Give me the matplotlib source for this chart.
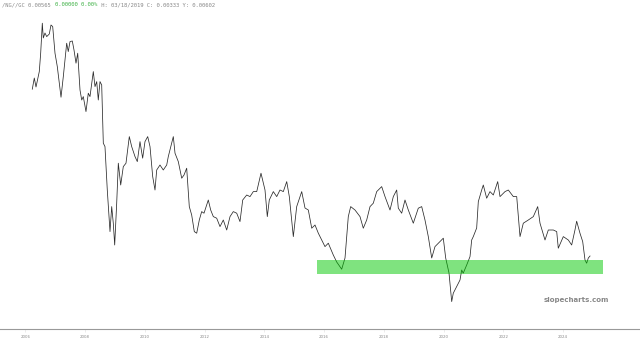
import matplotlib
matplotlib.use("Agg")
import matplotlib.pyplot as plt
import numpy as np

# NG / GC ratio (decimal year, value)
years = [2006.236, 2006.303, 2006.36, 2006.47, 2006.517, 2006.571, 2006.604, 2006.66, 2006.718, 2006.805,
         2006.862, 2006.919, 2006.996, 2007.073, 2007.197, 2007.274, 2007.387, 2007.44, 2007.498, 2007.575,
         2007.632, 2007.699, 2007.756, 2007.833, 2007.89, 2007.943, 2008.033, 2008.11, 2008.167, 2008.278,
         2008.335, 2008.392, 2008.445, 2008.502, 2008.559, 2008.613, 2008.669, 2008.746, 2008.837, 2008.894,
         2008.947, 2008.994, 2009.061, 2009.115, 2009.195, 2009.282, 2009.372, 2009.483, 2009.563, 2009.674,
         2009.751, 2009.841, 2009.93, 2010.008, 2010.099, 2010.176, 2010.266, 2010.343, 2010.4, 2010.51,
         2010.62, 2010.735, 2010.788, 2010.956, 2011.013, 2011.123, 2011.237, 2011.314, 2011.404, 2011.491,
         2011.571, 2011.659, 2011.739, 2011.826, 2011.906, 2011.983, 2012.127, 2012.207, 2012.295, 2012.408,
         2012.519, 2012.629, 2012.743, 2012.854, 2012.964, 2013.078, 2013.188, 2013.279, 2013.413, 2013.523,
         2013.634, 2013.748, 2013.891, 2014.025, 2014.102, 2014.169, 2014.303, 2014.417, 2014.527, 2014.638,
         2014.752, 2014.839, 2014.973, 2015.086, 2015.254, 2015.364, 2015.475, 2015.589, 2015.699, 2015.81,
         2016.033, 2016.144, 2016.311, 2016.425, 2016.592, 2016.703, 2016.813, 2016.893, 2017.037, 2017.205,
         2017.315, 2017.429, 2017.54, 2017.65, 2017.764, 2017.931, 2018.042, 2018.209, 2018.32, 2018.433,
         2018.487, 2018.6, 2018.711, 2018.822, 2018.989, 2019.156, 2019.27, 2019.38, 2019.491, 2019.605,
         2019.715, 2019.883, 2019.993, 2020.073, 2020.184, 2020.274, 2020.327, 2020.44, 2020.552, 2020.609,
         2020.66, 2020.776, 2020.887, 2020.943, 2020.997, 2021.11, 2021.165, 2021.278, 2021.332, 2021.445,
         2021.556, 2021.667, 2021.814, 2021.891, 2022.059, 2022.169, 2022.337, 2022.45, 2022.504, 2022.561,
         2022.671, 2022.839, 2023.006, 2023.153, 2023.23, 2023.397, 2023.508, 2023.676, 2023.789, 2023.842,
         2024.01, 2024.177, 2024.29, 2024.4, 2024.457, 2024.568, 2024.659, 2024.736, 2024.791, 2024.847,
         2024.904]
ratio = [0.01154, 0.01210, 0.01165, 0.01242, 0.01335, 0.01484, 0.01410, 0.01435, 0.01417, 0.01430,
         0.01475, 0.01467, 0.01334, 0.01267, 0.01114, 0.01217, 0.01384, 0.01342, 0.01392, 0.01395,
         0.01350, 0.01284, 0.01334, 0.01150, 0.01100, 0.01117, 0.01042, 0.01134, 0.01117, 0.01242,
         0.01167, 0.01192, 0.01100, 0.01192, 0.01175, 0.00884, 0.00867, 0.00650, 0.00442, 0.00567,
         0.00484, 0.00375, 0.00584, 0.00784, 0.00675, 0.00767, 0.00784, 0.00917, 0.00867, 0.00817,
         0.00792, 0.00892, 0.00809, 0.00892, 0.00917, 0.00867, 0.00717, 0.00650, 0.00750, 0.00775,
         0.00750, 0.00775, 0.00817, 0.00917, 0.00834, 0.00792, 0.00709, 0.00725, 0.00759, 0.00567,
         0.00525, 0.00442, 0.00434, 0.00500, 0.00542, 0.00534, 0.00600, 0.00550, 0.00517, 0.00509,
         0.00467, 0.00500, 0.00450, 0.00517, 0.00542, 0.00534, 0.00492, 0.00600, 0.00625, 0.00617,
         0.00642, 0.00642, 0.00734, 0.00650, 0.00517, 0.00600, 0.00642, 0.00617, 0.00650, 0.00642,
         0.00692, 0.00617, 0.00417, 0.00567, 0.00642, 0.00560, 0.00550, 0.00459, 0.00475, 0.00434,
         0.00367, 0.00384, 0.00325, 0.00290, 0.00254, 0.00310, 0.00517, 0.00567, 0.00550, 0.00517,
         0.00459, 0.00500, 0.00567, 0.00584, 0.00642, 0.00667, 0.00617, 0.00550, 0.00617, 0.00650,
         0.00559, 0.00534, 0.00600, 0.00550, 0.00484, 0.00559, 0.00567, 0.00500, 0.00417, 0.00310,
         0.00367, 0.00392, 0.00409, 0.00310, 0.00235, 0.00092, 0.00134, 0.00167, 0.00200, 0.00250,
         0.00234, 0.00275, 0.00317, 0.00400, 0.00417, 0.00460, 0.00592, 0.00650, 0.00675, 0.00609,
         0.00642, 0.00625, 0.00692, 0.00617, 0.00642, 0.00650, 0.00617, 0.00617, 0.00517, 0.00417,
         0.00484, 0.00500, 0.00517, 0.00567, 0.00484, 0.00400, 0.00450, 0.00450, 0.00442, 0.00359,
         0.00417, 0.00400, 0.00375, 0.00450, 0.00494, 0.00434, 0.00392, 0.00300, 0.00284, 0.00310,
         0.00320]

tick_years = [2006, 2008, 2010, 2012, 2014, 2016, 2018, 2020, 2022, 2024]
tick_labels = [str(y) for y in tick_years]

# support zone
zone_start, zone_end = 2015.766, 2025.339
zone_low, zone_high = 0.0023, 0.0030

header = ["/NG//GC 0.00565 ", "0.00000 0.00%", " H: 03/18/2019 C: 0.00333 Y: 0.00602"]
header_colors = ["#888888", "#3cb043", "#888888"]

fig = plt.figure(figsize=(6.4, 3.42), dpi=100)
ax = fig.add_axes([0, 0.038, 1, 0.962])

ax.plot(years, ratio, color="#2a2a2a", lw=0.55, zorder=2)
ax.fill_between([zone_start, zone_end], zone_low, zone_high,
                color="#00c800", alpha=0.5, lw=0, zorder=3)

ax.set_xlim(2005.155, 2026.577)
ax.set_ylim(-0.00045, 0.0160)

for s in ["top", "left", "right"]:
    ax.spines[s].set_visible(False)
ax.spines["bottom"].set_color("#999999")
ax.spines["bottom"].set_linewidth(0.8)
ax.set_yticks([])
ax.set_xticks(tick_years)
ax.set_xticklabels(tick_labels, fontsize=2.8, color="#888888")
ax.tick_params(axis="x", length=2, width=0.4, color="#dddddd", pad=2)

# header line, monospace so pieces can be chained by character count
char_w = 3.3
x0 = 2
for part, col in zip(header, header_colors):
    fig.text(x0 / 640, 1 - 5 / 342, part, fontsize=4, family="DejaVu Sans Mono",
             color=col, va="center", ha="left")
    x0 += len(part) * char_w

fig.text(576 / 640, 1 - 300 / 342, "slopecharts.com", fontsize=5, fontweight="bold",
         color="#888888", ha="center", va="center")

fig.savefig("out.png", dpi=100)
